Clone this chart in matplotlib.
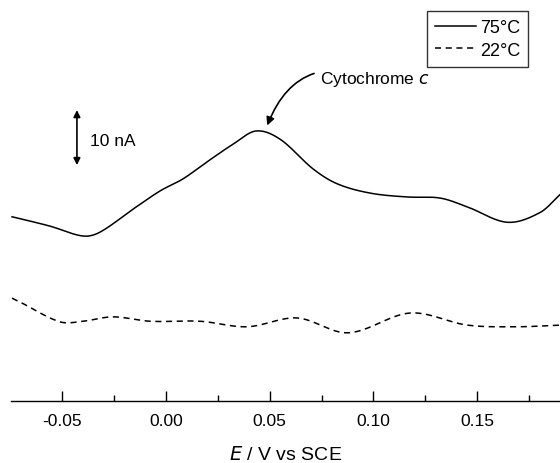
import matplotlib.pyplot as plt
from matplotlib.ticker import MultipleLocator
import numpy as np

plt.rcParams['font.family'] = ['Liberation Sans', 'DejaVu Sans']

# potential (V vs SCE) and current (nA, arbitrary offset)
e_75 = [-0.0743, -0.0560, -0.0401, -0.0319, -0.0159, -0.0029, 0.0082, 0.0198,
        0.0323, 0.0434, 0.0550, 0.0709, 0.0825, 0.0985, 0.1163, 0.1322,
        0.1453, 0.1646, 0.1805, 0.1902]
i_75 = [33.5, 31.8, 30.0, 30.7, 34.9, 38.2, 40.4, 43.5,
        46.7, 49.1, 47.6, 42.2, 39.5, 37.8, 37.1, 36.9,
        35.3, 32.5, 34.3, 37.6]

e_22 = [-0.0743, -0.0705, -0.0512, -0.0401, -0.0256, -0.0077, 0.0164, 0.0391,
        0.0632, 0.0878, 0.1178, 0.1453, 0.1694, 0.1902]
i_22 = [18.7, 18.0, 14.4, 14.5, 15.3, 14.5, 14.5, 13.5,
        15.1, 12.4, 16.0, 13.8, 13.5, 13.8]


def smooth(x, y):
    # cubic hermite through the read points (catmull-rom slopes)
    x = np.asarray(x)
    y = np.asarray(y)
    xs, ys = [], []
    for k in range(len(x) - 1):
        x0, x1 = x[k], x[k + 1]
        y0, y1 = y[k], y[k + 1]
        m0 = (y[k + 1] - y[k - 1]) / (x[k + 1] - x[k - 1]) if k > 0 else (y1 - y0) / (x1 - x0)
        m1 = (y[k + 2] - y[k]) / (x[k + 2] - x[k]) if k < len(x) - 2 else (y1 - y0) / (x1 - x0)
        t = np.linspace(0, 1, 30, endpoint=False)
        h = x1 - x0
        h00 = 2 * t**3 - 3 * t**2 + 1
        h10 = t**3 - 2 * t**2 + t
        h01 = -2 * t**3 + 3 * t**2
        h11 = t**3 - t**2
        xs.extend(x0 + t * h)
        ys.extend(h00 * y0 + h10 * h * m0 + h01 * y1 + h11 * h * m1)
    xs.append(x[-1])
    ys.append(y[-1])
    return xs, ys


fig = plt.figure(figsize=(5.6, 4.64), dpi=100)
ax = fig.add_axes([11 / 560, 62 / 464, 549 / 560, 402 / 464])

x, y = smooth(e_75, i_75)
ax.plot(x, y, color='black', lw=1.1, label='75°C')
x, y = smooth(e_22, i_22)
ax.plot(x, y, color='black', lw=1.1, dashes=(4, 3), label='22°C')

ax.set_xlim(-0.0748, 0.190)
ax.set_ylim(0, 73.1)

for side in ['top', 'right', 'left']:
    ax.spines[side].set_visible(False)
ax.spines['bottom'].set_linewidth(1.0)
ax.set_yticks([])
ax.xaxis.set_major_locator(MultipleLocator(0.05))
ax.xaxis.set_minor_locator(MultipleLocator(0.025))
ax.tick_params(axis='x', which='major', direction='in', length=7.5, width=1, labelsize=12.5, pad=9)
ax.tick_params(axis='x', which='minor', direction='in', length=4.5, width=1)
ax.set_xticks([-0.05, 0.0, 0.05, 0.10, 0.15])
ax.set_xticklabels(['-0.05', '0.00', '0.05', '0.10', '0.15'])
ax.set_xlabel('$\\it{E}$ / V vs SCE', fontsize=14, labelpad=12)

# 10 nA scale bar
ax.annotate('', xy=(-0.0430, 42.9), xytext=(-0.0430, 52.9),
            arrowprops=dict(arrowstyle='<|-|>', color='black', lw=1.2,
                            mutation_scale=10, shrinkA=0, shrinkB=0))
ax.text(-0.0367, 47.3, '10 nA', fontsize=12.5, va='center', ha='left')

# peak label
ax.annotate('Cytochrome $\\it{c}$', xy=(0.0488, 50.1), xytext=(0.0740, 58.6),
            fontsize=12.5, va='center', ha='left',
            arrowprops=dict(arrowstyle='-|>', color='black', lw=1.2,
                            mutation_scale=12, shrinkA=2, shrinkB=0,
                            connectionstyle='arc3,rad=0.5'))

leg = ax.legend(loc='upper right', bbox_to_anchor=(0.942, 0.970), fontsize=13,
                frameon=True, fancybox=False, edgecolor='black', handlelength=2.3,
                borderpad=0.45, labelspacing=0.3, handletextpad=0.2,
                borderaxespad=0)
leg.get_frame().set_linewidth(1.0)

fig.savefig('out.png', dpi=100)
